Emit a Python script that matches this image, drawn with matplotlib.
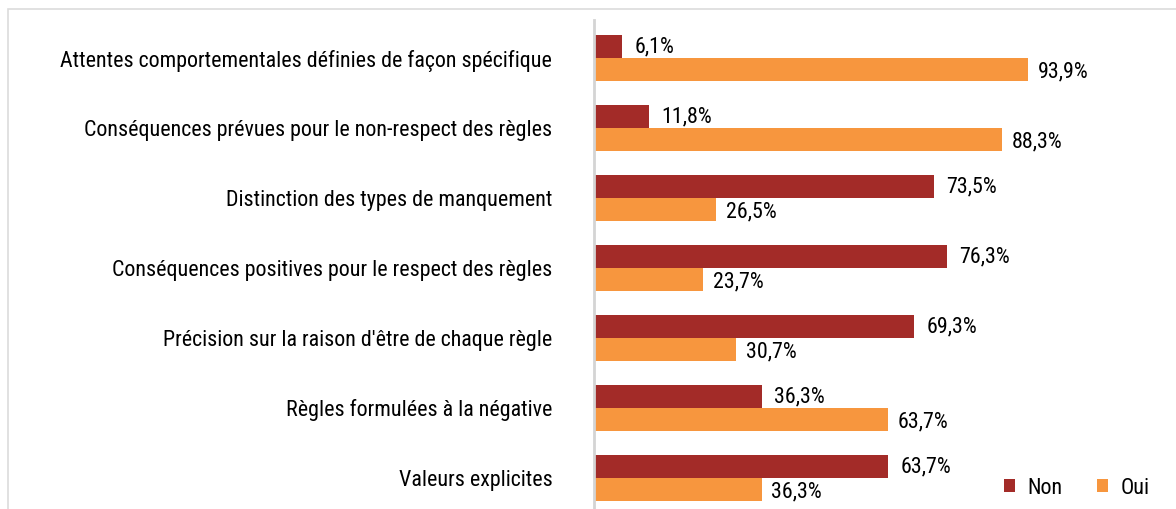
import matplotlib
matplotlib.use("Agg")
import matplotlib.pyplot as plt
from matplotlib import font_manager
from matplotlib.patches import Rectangle
import numpy as np

categories = [
    "Attentes comportementales définies de façon spécifique",
    "Conséquences prévues pour le non-respect des règles",
    "Distinction des types de manquement",
    "Conséquences positives pour le respect des règles",
    "Précision sur la raison d'être de chaque règle",
    "Règles formulées à la négative",
    "Valeurs explicites",
]
non = [6.1, 11.8, 73.5, 76.3, 69.3, 36.3, 63.7]
oui = [93.9, 88.3, 26.5, 23.7, 30.7, 63.7, 36.3]

names = {f.name for f in font_manager.fontManager.ttflist}
family = "DejaVu Sans"
for cand in ["Liberation Sans Narrow", "Roboto Condensed", "Open Sans Condensed", "Roboto"]:
    if cand in names:
        family = cand
        break
plt.rcParams["font.family"] = [family, "DejaVu Sans"]

c_non = "#A32B28"
c_oui = "#F7963E"
fs = 15.8

fig = plt.figure(figsize=(11.76, 5.09), dpi=100)
# light frame around the chart
fig.patches.append(Rectangle((8 / 1176, -0.1), 1.2, (509 - 9) / 509 + 0.1,
                             transform=fig.transFigure, fill=False,
                             edgecolor="#dcdcdc", linewidth=1.2))

ax = fig.add_axes([594 / 1176, 0, 1 - 594 / 1176, 489 / 509])
y = np.arange(len(categories))
h = 0.33
ax.barh(y - h / 2, non, height=h, color=c_non, label="Non")
ax.barh(y + h / 2, oui, height=h, color=c_oui, label="Oui")

for yi, v in zip(y, non):
    ax.annotate(f"{v:.1f}%".replace(".", ","), (v, yi - h / 2), xytext=(9, 0),
                textcoords="offset points", va="center", ha="left", fontsize=fs)
for yi, v in zip(y, oui):
    ax.annotate(f"{v:.1f}%".replace(".", ","), (v, yi + h / 2), xytext=(7, -2),
                textcoords="offset points", va="center", ha="left", fontsize=fs)

ax.set_xlim(0, 582 / 4.62)
ax.set_ylim(6.443, -0.543)
ax.set_yticks(y)
ax.set_yticklabels(categories, fontsize=fs)
ax.tick_params(axis="y", length=0, pad=30)
ax.set_xticks([])
for s in ["top", "right", "bottom"]:
    ax.spines[s].set_visible(False)
ax.spines["left"].set_color("#d4d4d4")
ax.spines["left"].set_linewidth(2)

fig.legend(loc="center right", bbox_to_anchor=(1150 / 1176, 1 - 488 / 509),
           handles=ax.patches[:1] + ax.patches[len(y):len(y) + 1],
           labels=["Non", "Oui"], ncol=2, frameon=False,
           fontsize=fs, handlelength=0.5, handleheight=0.5, columnspacing=1.55,
           handletextpad=0.6, borderpad=0, borderaxespad=0)

fig.savefig("out.png", dpi=100)
